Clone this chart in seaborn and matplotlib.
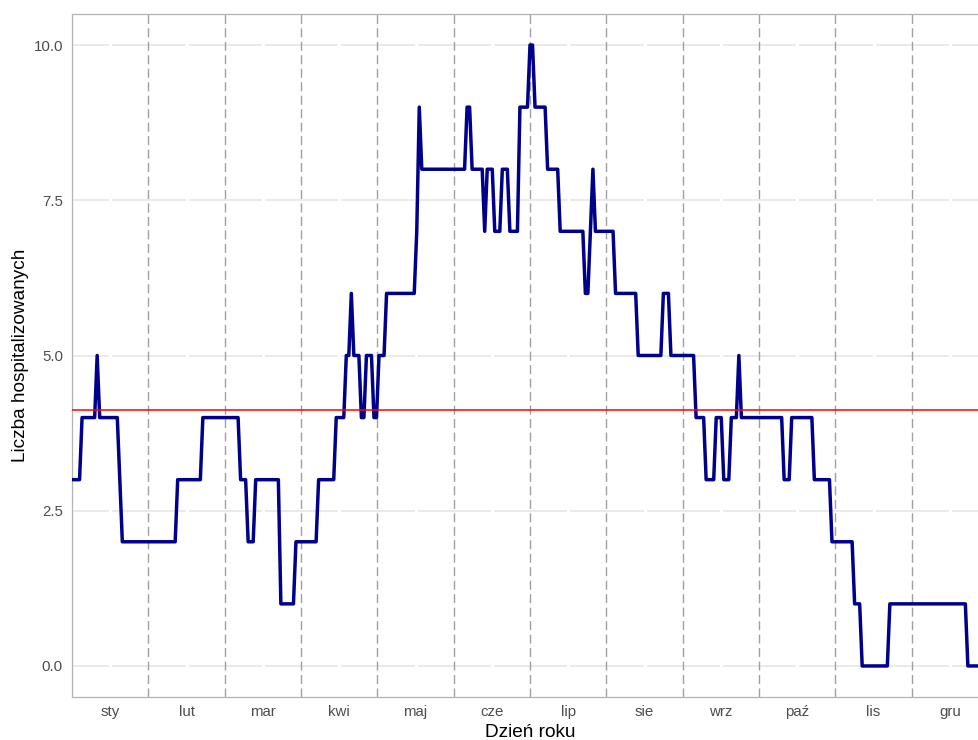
import numpy as np
import pandas as pd
import matplotlib
matplotlib.use("Agg")
import matplotlib.pyplot as plt
import seaborn as sns

# Daily counts, stored as runs: (value, number of consecutive days)
run_values = [3, 4, 5, 4, 3, 2, 3, 4, 3, 2, 3, 1, 2, 3, 4, 5, 6, 5, 4, 5, 4, 5,
              6, 7, 9, 8, 9, 8, 7, 8, 7, 8, 7, 9, 10, 9, 8, 7, 6, 7, 8, 7, 6, 5,
              6, 5, 4, 3, 4, 3, 4, 5, 4, 3, 4, 3, 2, 1, 0, 1, 0]
run_lengths = [4, 6, 1, 8, 1, 22, 10, 15, 3, 3, 10, 6, 9, 7, 4, 2, 1, 3, 2, 3, 2, 3,
               12, 1, 1, 18, 2, 5, 1, 3, 3, 3, 4, 4, 2, 5, 5, 10, 2, 1, 1, 8, 9, 10,
               3, 10, 4, 4, 3, 3, 3, 1, 17, 3, 9, 7, 9, 3, 11, 31, 9]

month_labels = ["sty", "lut", "mar", "kwi", "maj", "cze",
                "lip", "sie", "wrz", "paź", "lis", "gru"]
y_ticks = [0.0, 2.5, 5.0, 7.5, 10.0]

counts = np.repeat(run_values, run_lengths)
days = np.arange(1, len(counts) + 1)
df = pd.DataFrame({"dzien": days, "liczba": counts})

sns.set_theme(style="white")
plt.rcParams["font.family"] = ["Liberation Sans", "DejaVu Sans"]
plt.rcParams["lines.scale_dashes"] = False

fig = plt.figure(figsize=(9.79, 7.40), dpi=100)
ax = fig.add_axes([72 / 979, 43 / 740, 916 / 979, 683 / 740])

x_min, x_max = 1, 365
month_edges = np.linspace(x_min, x_max, 13)
month_mids = (month_edges[:-1] + month_edges[1:]) / 2

# horizontal grid
for yv in y_ticks:
    ax.axhline(yv, color="#E6E6E6", linewidth=1.2, zorder=0.5)
# white major x grid cutting through the horizontal grid
for xm in month_mids:
    ax.axvline(xm, color="white", linewidth=2.2, zorder=0.6)
# month boundaries
for xe in month_edges[1:-1]:
    ax.axvline(xe, color="#A0A0A0", linewidth=1.0, linestyle=(0, (6.5, 3.2)), zorder=1)

sns.lineplot(data=df, x="dzien", y="liczba", color="#00008B", linewidth=2.5,
             ax=ax, zorder=3)
ax.axhline(df["liczba"].mean(), color="#FF0000", linewidth=1.1, zorder=4)

ax.set_xlim(x_min, x_max)
ax.set_ylim(-0.5, 10.5)
ax.set_xticks(month_mids)
ax.set_xticklabels(month_labels)
ax.set_yticks(y_ticks)
ax.set_yticklabels([f"{v:.1f}" for v in y_ticks])
ax.tick_params(axis="both", length=0, labelsize=10.8, labelcolor="#4D4D4D")
ax.tick_params(axis="y", pad=6.5)
ax.tick_params(axis="x", pad=5.5)

for side in ["left", "bottom", "top", "right"]:
    ax.spines[side].set_color("#B3B3B3")
    ax.spines[side].set_linewidth(0.9)
ax.grid(False)

ax.set_xlabel("Dzień roku", fontsize=13.7, color="black")
ax.set_ylabel("Liczba hospitalizowanych", fontsize=13.7, color="black")
ax.xaxis.set_label_coords(0.5, -(724 - 697) / 683)
ax.yaxis.set_label_coords((29 - 72) / 916, 0.5)

fig.savefig("out.png", dpi=100)
